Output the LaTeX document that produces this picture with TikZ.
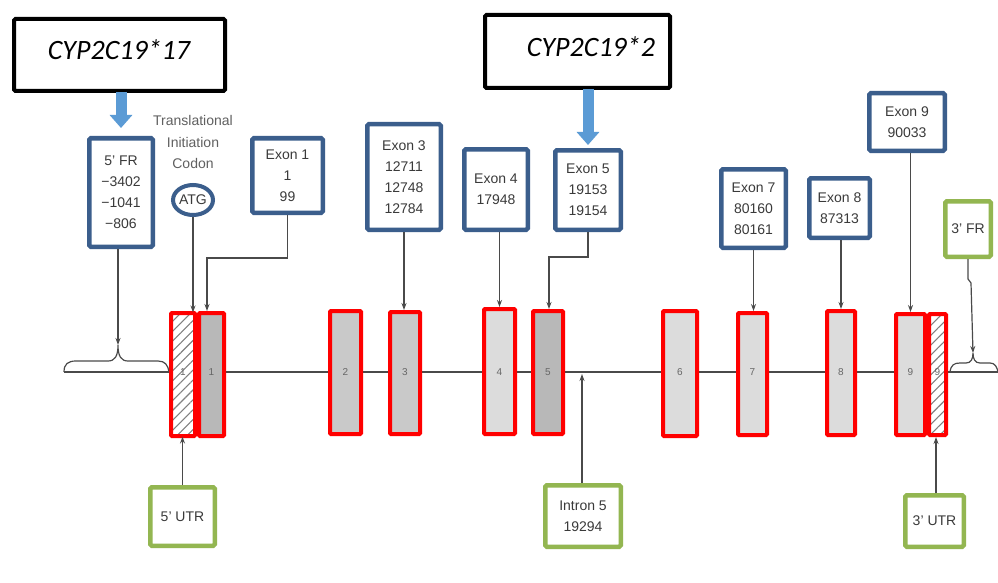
\documentclass[tikz,border=0pt]{standalone}
\usepackage{fontspec}
\setmainfont{Liberation Sans}
\newfontfamily\carlito{Carlito}
\usetikzlibrary{arrows.meta,patterns.meta,shapes.geometric}
\definecolor{bluec}{HTML}{3B5E8C}
\definecolor{greenc}{HTML}{93B651}
\definecolor{arrowblue}{HTML}{5B9BD5}
\definecolor{txtgray}{HTML}{3A3A3A}
\definecolor{linegray}{HTML}{4A4A4A}
\definecolor{exdark}{HTML}{B8B8B8}
\definecolor{exmid}{HTML}{C9C9C9}
\definecolor{exlight}{HTML}{DCDCDC}
\begin{document}
\begin{tikzpicture}[x=1pt,y=-1pt,
  lbl/.style={font=\fontsize{14}{21}\selectfont, text=txtgray, align=center, inner sep=0pt, fill=white, rounded corners=1.5pt},
  bluebox/.style={lbl, draw=bluec, line width=4.5pt},
  greenbox/.style={lbl, draw=greenc, line width=4.5pt},
  bigbox/.style={draw=black, line width=4pt, rounded corners=1.5pt, fill=white, inner sep=0pt},
  bigtext/.style={font=\carlito\itshape\fontsize{28}{28}\selectfont, text=black, inner sep=0pt},
  exon/.style={draw=red, line width=4pt, rounded corners=1pt, inner sep=0pt},
  hatchexon/.style={exon, preaction={fill=white}, pattern={Lines[angle=45,distance=7pt,line width=1.1pt]}, pattern color=gray},
  exnum/.style={font=\fontsize{10}{10}\selectfont, text=gray!80!black, inner sep=0pt},
  conn/.style={draw=linegray, line width=1.2pt, -{Stealth[length=7pt,width=5pt]}},
  bluearrow/.style={draw=arrowblue, line width=11pt, -{Triangle[length=13pt,width=22pt]}},
  brace/.style={draw=linegray, line width=1.2pt},
  backbone/.style={draw=linegray, line width=2pt}]
\useasboundingbox (0,0) rectangle (998,583);
\fill[white] (0,0) rectangle (998,583);

% backbone and braces
\draw[backbone] (64,372) -- (998,372);
\draw[brace] (64,372) .. controls (64,364) and (68,361) .. (76,361) -- (108,361)
  .. controls (115,361) and (118,356) .. (118,345)
  .. controls (118,356) and (121,361) .. (128,361) -- (158,361)
  .. controls (165,361) and (168,365) .. (169,372);
\draw[brace] (950,372) .. controls (951,365) and (954,363) .. (960,363) -- (966,363)
  .. controls (971,363) and (973,359) .. (973,353)
  .. controls (973,359) and (975,363) .. (980,363) -- (990,363)
  .. controls (995,363) and (997,367) .. (998,372);
\coordinate (tip5) at (118,345);
\coordinate (tip3) at (973,353);
\coordinate (bb5) at (582,374);

% exons
\node[hatchexon, minimum width=24, minimum height=123] (h1) at (183,374.5) {};
\node[exon, fill=exdark, minimum width=25, minimum height=123] (e1) at (211.5,374.5) {};
\node[exon, fill=exmid, minimum width=31, minimum height=123] (e2) at (345.5,372.5) {};
\node[exon, fill=exmid, minimum width=30, minimum height=122] (e3) at (405,373) {};
\node[exon, fill=exlight, minimum width=31, minimum height=125] (e4) at (499.5,371.5) {};
\node[exon, fill=exdark, minimum width=30, minimum height=123] (e5) at (548,372.5) {};
\node[exon, fill=exlight, minimum width=34, minimum height=125] (e6) at (680,373.5) {};
\node[exon, fill=exlight, minimum width=29, minimum height=122] (e7) at (752.5,374) {};
\node[exon, fill=exlight, minimum width=28, minimum height=124] (e8) at (841,373) {};
\node[exon, fill=exlight, minimum width=29, minimum height=121] (e9) at (910.5,374.5) {};
\node[hatchexon, minimum width=17, minimum height=121] (h9) at (937.5,374.5) {};

\node[exnum] at (183,372) {1};
\node[exnum] at (211.5,372) {1};
\node[exnum] at (345.5,372) {2};
\node[exnum] at (405,372) {3};
\node[exnum] at (499.5,372) {4};
\node[exnum] at (548,372) {5};
\node[exnum] at (680,372) {6};
\node[exnum] at (752.5,372) {7};
\node[exnum] at (841,372) {8};
\node[exnum] at (910.5,372) {9};
\node[exnum] at (937.5,372) {9};

% allele boxes
\node[bigbox, minimum width=211, minimum height=72] (big17) at (119.5,55) {};
\node[bigtext] (t17) at (119,50) {CYP2C19*17};
\node[bigbox, minimum width=185, minimum height=73] (big2) at (577.5,51.5) {};
\node[bigtext] (t2) at (591,47) {CYP2C19*2};

% label boxes
\node[bluebox, minimum width=63.5, minimum height=108.5] (fr5) at (121,192.5) {5' FR\\−3402\\−1041\\−806};
\node[font=\fontsize{14}{21.5}\selectfont, text=gray!75!black, align=center, inner sep=0pt] (tic) at (193,142) {Translational\\Initiation\\Codon};
\node[ellipse, draw=bluec, line width=4pt, fill=white, minimum width=40, minimum height=30, inner sep=0pt, font=\fontsize{14}{14}\selectfont, text=txtgray] (atg) at (193,200) {ATG};
\node[bluebox, minimum width=70.5, minimum height=74.5] (x1) at (287.5,175.5) {Exon 1\\1\\99};
\node[bluebox, minimum width=73.5, minimum height=105.5] (x3) at (404,177) {Exon 3\\12711\\12748\\12784};
\node[bluebox, minimum width=63.5, minimum height=80.5] (x4) at (496,189.5) {Exon 4\\17948};
\node[bluebox, minimum width=65.5, minimum height=79.5] (x5) at (588,190) {Exon 5\\19153\\19154};
\node[bluebox, minimum width=64.5, minimum height=78.5] (x7) at (753.5,208.5) {Exon 7\\80160\\80161};
\node[bluebox, minimum width=60.5, minimum height=59.5] (x8) at (839.5,208) {Exon 8\\87313};
\node[bluebox, minimum width=75.5, minimum height=57.5] (x9) at (907,122) {Exon 9\\90033};
\node[greenbox, minimum width=45.5, minimum height=55.5] (fr3) at (968,229) {3' FR};
\node[greenbox, minimum width=64.5, minimum height=58.5] (u5) at (182.5,516.5) {5' UTR};
\node[greenbox, minimum width=75.5, minimum height=61.5] (i5) at (583,516) {Intron 5\\19294};
\node[greenbox, minimum width=58.5, minimum height=51.5] (u3) at (934.5,521) {3' UTR};

% blue arrows
\draw[bluearrow] (big17.south -| fr5.north) ++(0,-1) -- ([yshift=8pt]fr5.north);
\draw[bluearrow] (big2.south -| x5.north) ++(0,-1) -- ([yshift=3pt]x5.north);

% connectors
\draw[conn] (fr5.south -| tip5) -- (tip5);
\draw[conn] (atg.south) -- (atg.south |- h1.north);
\draw[conn] (x1.south) -- ++(0,43) -| ([xshift=-4.5pt]e1.north);
\draw[conn] (x3.south) -- (x3.south |- e3.north);
\draw[conn] (e4.north |- x4.south) -- (e4.north);
\draw[conn] (x5.south) -- ++(0,25) -| ([xshift=1pt]e5.north);
\draw[conn] (x7.south) -- (x7.south |- e7.north);
\draw[conn] (e8.north |- x8.south) -- (e8.north);
\draw[conn] (e9.north |- x9.south) -- (e9.north);
\draw[conn] (fr3.south) -- ++(0,20) -- ++(3,4) -- (tip3);
\draw[conn] (u5.north) -- (u5.north |- h1.south);
\draw[conn] (i5.north -| bb5) -- (bb5);
\draw[conn] (u3.north) ++(1.5,0) coordinate (u3t) -- (u3t |- h9.south);
\end{tikzpicture}
\end{document}
